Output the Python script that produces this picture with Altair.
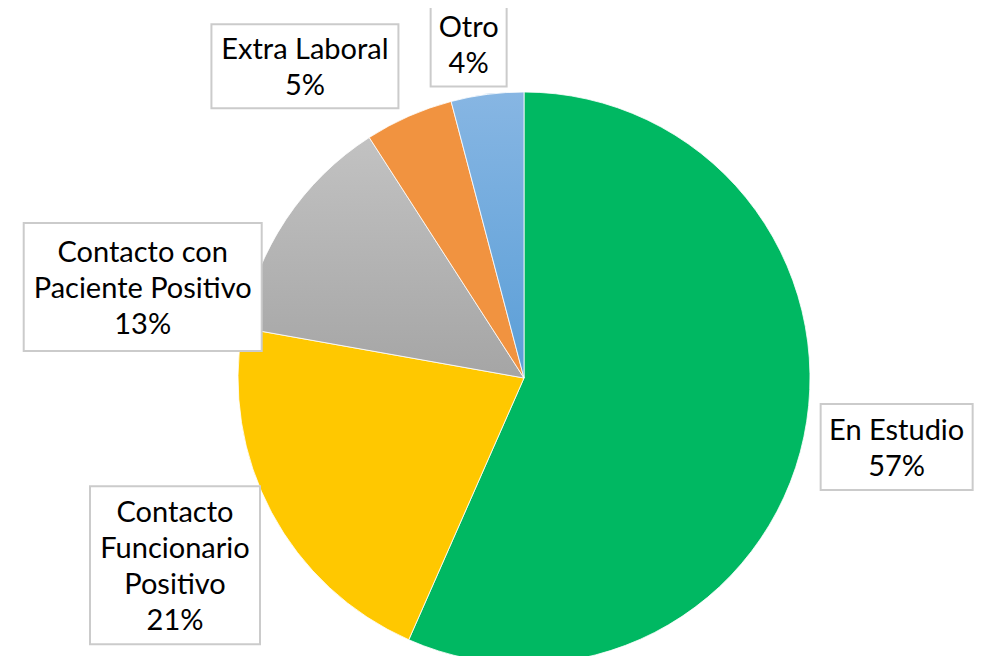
import math
import altair as alt
import pandas as pd

# ---- data ----
categories = ["En Estudio", "Contacto Funcionario Positivo", "Contacto con Paciente Positivo",
              "Extra Laboral", "Otro"]
values = [56.6, 21.2, 13.1, 5.0, 4.1]
label_lines = [["En Estudio"], ["Contacto", "Funcionario", "Positivo"],
               ["Contacto con", "Paciente Positivo"], ["Extra Laboral"], ["Otro"]]

# ---- layout / style ----
W, H = 971, 648
CX, CY, R = 516, 370, 286
LINE_H = 36
TEXT_SHIFT = 2
label_angle_offset = [-1.38, -0.12, -20.24, -11.34, -2.02]   # degrees from slice middle
label_radius = [379, 396, 392, 381, 339]
box_size = [(152, 86), (170, 158), (238, 128), (187, 84), (76, 86)]
fills = [
    "#00B862",
    "#FFC800",
    alt.Gradient(gradient="linear", x1=0, x2=0, y1=0, y2=1,
                 stops=[alt.GradientStop(color="#C2C2C2", offset=0),
                        alt.GradientStop(color="#A5A5A5", offset=1)]),
    "#F19340",
    alt.Gradient(gradient="linear", x1=0, x2=0, y1=0, y2=1,
                 stops=[alt.GradientStop(color="#87B6E3", offset=0),
                        alt.GradientStop(color="#5A9ED7", offset=1)]),
]

total = sum(values)
rows = []
cum = 0
for i, (c, v) in enumerate(zip(categories, values)):
    start, end = cum, cum + v
    cum = end
    mid = (start + end) / 2 / total * 360 + label_angle_offset[i]
    a = math.radians(mid)
    lx = CX + label_radius[i] * math.sin(a)
    ly = CY - label_radius[i] * math.cos(a)
    bw, bh = box_size[i]
    lines = label_lines[i] + [f"{round(v / total * 100)}%"]
    rows.append(dict(cat=c, value=v, start=start, end=end,
                     label="\n".join(lines),
                     lx=lx, ty=ly + TEXT_SHIFT - (len(lines) - 1) * LINE_H / 2,
                     x0=lx - bw / 2, x1=lx + bw / 2,
                     y0=ly - bh / 2, y1=ly + bh / 2))
df = pd.DataFrame(rows)

xs = alt.Scale(domain=[0, W], nice=False, zero=False)
ys = alt.Scale(domain=[0, H], nice=False, zero=False, reverse=True)
ts = alt.Scale(domain=[0, total], range=[0, 2 * math.pi])

base = alt.Chart(df)
layers = []
for i, c in enumerate(categories):
    layers.append(
        base.transform_filter(alt.datum.cat == c)
        .mark_arc(outerRadius=R, fill=fills[i], stroke="#FFFFFF", strokeWidth=0.8)
        .encode(theta=alt.Theta("start:Q", scale=ts),
                theta2="end:Q",
                x=alt.value(CX), y=alt.value(CY))
    )

boxes = base.mark_rect(fill="white", stroke="#CBCBCB", strokeWidth=2).encode(
    x=alt.X("x0:Q", scale=xs, axis=None), x2="x1:Q",
    y=alt.Y("y0:Q", scale=ys, axis=None), y2="y1:Q")

texts = base.mark_text(font="Lato", fontSize=29, lineHeight=LINE_H, lineBreak="\n",
                       color="#000000", align="center", baseline="middle").encode(
    x=alt.X("lx:Q", scale=xs, axis=None),
    y=alt.Y("ty:Q", scale=ys, axis=None),
    text="label:N")

chart = alt.layer(*layers, boxes, texts).properties(
    width=W, height=H, padding=0,
    autosize=alt.AutoSizeParams(type="none"),
    background="white",
).configure_view(stroke=None)

chart.save("out.html", embed_options={"renderer": "svg", "actions": False})
